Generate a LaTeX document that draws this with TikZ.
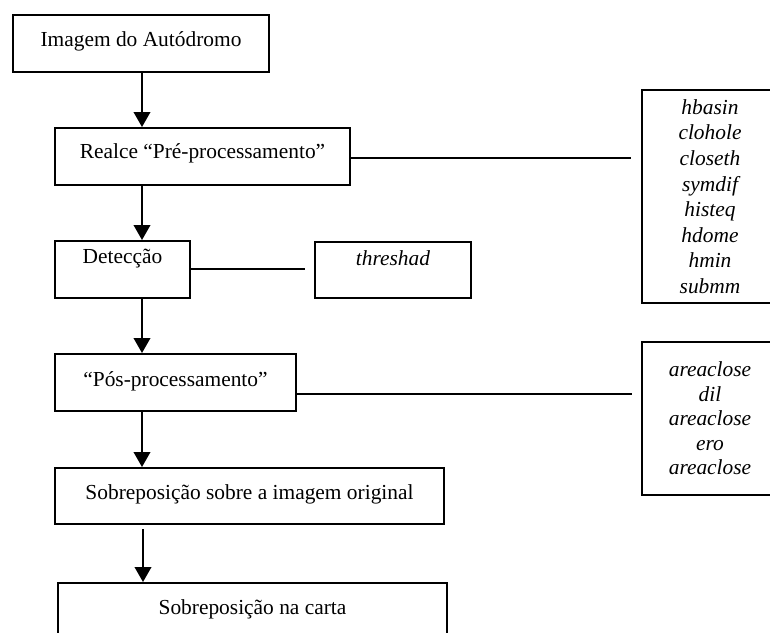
\documentclass[tikz,border=0pt]{standalone}
\usepackage{fontspec}
\setmainfont{Liberation Serif}
\usetikzlibrary{arrows.meta}
\tikzset{
  bx/.style={draw, rectangle, line width=1pt, inner xsep=0pt, inner ysep=0pt, anchor=north west, font=\fontsize{10.7pt}{12.75pt}\selectfont},
  listbox/.style={draw, rectangle, line width=1pt, inner sep=0pt, align=center, minimum width=68pt, font=\fontsize{10.7pt}{12.8pt}\selectfont\itshape},
  arr/.style={line width=1pt, -{Triangle[length=7.5pt,width=8.3pt]}},
  conn/.style={line width=1pt}
}
\begin{document}
\begin{tikzpicture}[x=0.5pt,y=-0.5pt]
\path[use as bounding box, clip] (0,0) rectangle (770,632);
\fill[white] (0,0) rectangle (770,632);

\node[bx, minimum width=128pt, text height=15.5pt, text depth=13pt] (b1) at (12,14) {Imagem do Autódromo};
\node[bx, minimum width=147.5pt, text height=15pt, text depth=13.5pt] (b2) at (54,127) {Realce “Pré-processamento”};
\node[bx, minimum width=67.5pt, text height=11pt, text depth=17.5pt] (b3) at (54,240) {Detecção};
\node[bx, minimum width=78pt, text height=11.5pt, text depth=16.5pt, font=\fontsize{10.7pt}{12.75pt}\selectfont\itshape] (th) at (314,241) {threshad};
\node[bx, minimum width=120.5pt, text height=16pt, text depth=12.5pt] (b4) at (54,353) {“Pós-processamento”};
\node[bx, minimum width=194.5pt, text height=15.5pt, text depth=12.5pt] (b5) at (54,467) {Sobreposição sobre a imagem original};
\node[bx, minimum width=194.5pt, text height=15.5pt, text depth=23.5pt] (b6) at (57,582) {Sobreposição na carta};

\node[listbox, minimum height=106.5pt] (r1) at (710,196.5) {hbasin\\clohole\\closeth\\symdif\\histeq\\hdome\\hmin\\submm};
\node[listbox, minimum height=76.5pt, font=\fontsize{10.7pt}{12.25pt}\selectfont\itshape] (r2) at (710,418.5) {areaclose\\dil\\areaclose\\ero\\areaclose};

\coordinate (col) at (142,0);
\draw[arr] (b1.south -| col) -- (b2.north -| col);
\draw[arr] (b2.south -| col) -- (b3.north -| col);
\draw[arr] (b3.south -| col) -- (b4.north -| col);
\draw[arr] (b4.south -| col) -- (b5.north -| col);
\draw[arr] ([xshift=0.5pt,yshift=-2pt]b5.south -| col) -- ([xshift=0.5pt]b6.north -| col);

\draw[conn, shorten >=5pt] ([yshift=-0.5pt]b2.east) -- ([yshift=-0.5pt]b2.east -| r1.west);
\draw[conn, shorten >=4.5pt] ([yshift=0.5pt]b3.east) -- ([yshift=0.5pt]b3.east -| th.west);
\draw[conn, shorten >=4.5pt] ([yshift=-5.5pt]b4.east) -- ([yshift=-5.5pt]b4.east -| r2.west);
\end{tikzpicture}
\end{document}
